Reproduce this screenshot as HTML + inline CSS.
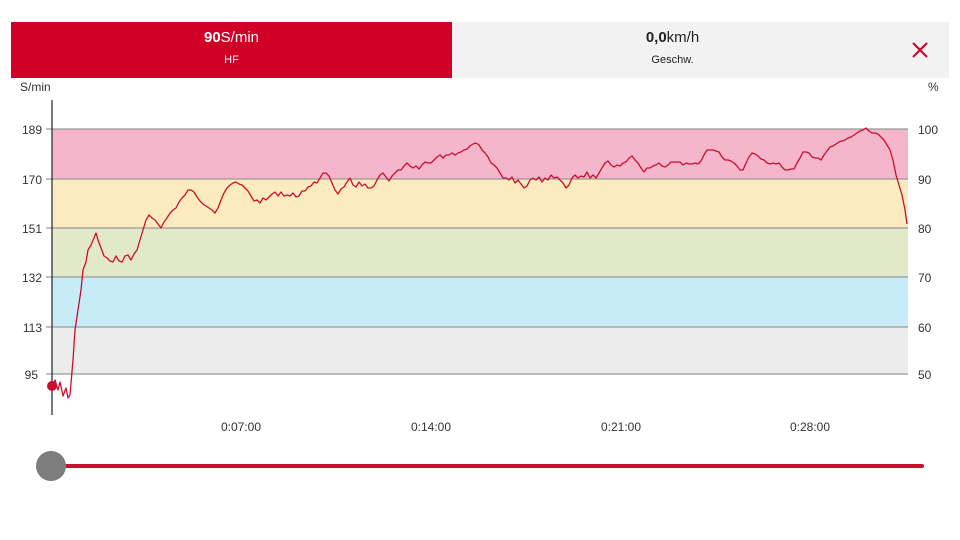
<!DOCTYPE html><html><head><meta charset="utf-8"><style>
body{margin:0;width:960px;height:540px;background:#fff;font-family:"Liberation Sans",sans-serif;overflow:hidden;position:relative}
.t{position:absolute;font-size:12px;color:#333}
</style></head><body>
<div style="position:absolute;left:11px;top:22px;width:441px;height:56px;background:#d10026;color:#fff;text-align:center">
<div style="font-size:15px;margin-top:7px"><b>90</b>S/min</div><div style="font-size:11px;margin-top:8px">HF</div></div>
<div style="position:absolute;left:452px;top:22px;width:497px;height:56px;background:#f2f2f2;color:#222;text-align:center">
<div style="font-size:15px;margin-top:7px;margin-left:-56px"><b>0,0</b>km/h</div><div style="font-size:11px;margin-top:8px;margin-left:-56px">Geschw.</div>
</div>
<div class="t" style="left:20px;top:80px">S/min</div>
<div class="t" style="left:928px;top:80px">%</div>
<svg width="960" height="540" style="position:absolute;left:0;top:0">
<g stroke="#d10026" stroke-width="2"><line x1="913" y1="43" x2="927" y2="57"/><line x1="927" y1="43" x2="913" y2="57"/></g>
<rect x="52" y="129" width="856" height="50" fill="#f5b5ca"/>
<rect x="52" y="179" width="856" height="49" fill="#fdebc0"/>
<rect x="52" y="228" width="856" height="49" fill="#e1e9c8"/>
<rect x="52" y="277" width="856" height="50" fill="#c8ebf8"/>
<rect x="52" y="327" width="856" height="47" fill="#ececec"/>
<g stroke="#999" stroke-width="1.2">
<line x1="46" y1="129" x2="908" y2="129"/><line x1="46" y1="179" x2="908" y2="179"/><line x1="46" y1="228" x2="908" y2="228"/><line x1="46" y1="277" x2="908" y2="277"/><line x1="46" y1="327" x2="908" y2="327"/><line x1="46" y1="374" x2="908" y2="374"/>
</g>
<line x1="52" y1="100" x2="52" y2="415" stroke="#222" stroke-width="1.2"/>
<g font-size="12" fill="#333" font-family="Liberation Sans">
<text x="42" y="134" text-anchor="end">189</text><text x="42" y="184" text-anchor="end">170</text><text x="42" y="233" text-anchor="end">151</text><text x="42" y="282" text-anchor="end">132</text><text x="42" y="332" text-anchor="end">113</text><text x="38" y="379" text-anchor="end">95</text>
<text x="918" y="134">100</text><text x="918" y="184">90</text><text x="918" y="233">80</text><text x="918" y="282">70</text><text x="918" y="332">60</text><text x="918" y="379">50</text>
<text x="241" y="431" text-anchor="middle">0:07:00</text><text x="431" y="431" text-anchor="middle">0:14:00</text><text x="621" y="431" text-anchor="middle">0:21:00</text><text x="810" y="431" text-anchor="middle">0:28:00</text>
</g>
<polyline fill="none" stroke="#c8102e" stroke-width="1.3" stroke-linejoin="round" points="52,386 55,380 58,390 60,382 63,396 66,388 68,398 70,395 73,360 75,330 78,310 81,290 83,270 86,262 88,250 91,245 94,238 96,233 98,240 101,248 104,256 107,258 110,261 113,262 116,256 119,261 122,262 125,256 128,255 131,260 134,254 137,250 140,240 143,230 146,220 149,215 152,218 155,220 158,224 161,228 164,222 167,218 170,213 173,210 176,208 179,202 182,198 185,195 188,190 191,190 194,192 197,197 200,201 203,204 206,206 209,208 212,210 215,213 218,208 221,200 224,193 227,188 230,185 233,183 236,182 239,184 242,185 245,188 248,191 251,196 254,201 257,200 260,203 263,198 266,200 269,197 272,194 275,192 278,196 281,192 284,196 287,195 290,196 293,193 296,197 299,196 302,191 305,191 308,187 311,186 314,182 317,183 320,178 323,173 326,173 329,176 332,183 335,190 338,194 341,189 344,187 347,182 350,178 353,185 356,187 359,182 362,186 365,184 368,188 371,188 374,186 377,180 380,175 383,173 386,177 389,181 392,176 395,173 398,170 401,170 404,166 407,163 410,166 413,168 416,166 419,169 422,165 425,162 428,163 431,163 434,160 437,157 440,155 443,158 446,155 449,155 452,153 455,155 458,153 461,152 464,150 467,149 470,146 473,144 476,143 479,145 482,150 485,153 488,157 491,163 494,165 497,168 500,173 503,178 506,178 509,180 512,177 515,183 518,180 521,184 524,188 527,186 530,180 533,178 536,180 539,177 542,182 545,178 548,180 551,175 554,178 557,177 560,180 563,183 566,188 569,185 572,178 575,175 578,178 581,176 584,177 587,172 590,178 593,175 596,178 599,173 602,168 605,163 608,161 611,165 614,167 617,165 620,166 623,163 626,162 629,158 632,156 635,160 638,163 641,168 644,172 647,168 650,168 653,166 656,165 659,163 662,166 665,167 668,165 671,162 674,162 677,162 680,162 683,165 686,163 689,164 692,164 695,163 698,164 701,161 704,155 707,150 710,150 713,150 716,151 719,152 722,157 725,160 728,160 731,161 734,163 737,166 740,170 743,170 746,163 749,157 752,153 755,154 758,156 761,159 764,160 767,163 770,164 773,163 776,164 779,163 782,167 785,170 788,170 791,169 794,169 797,163 800,158 803,152 806,152 809,153 812,157 815,158 818,158 821,160 824,155 827,151 830,147 833,146 836,144 839,142 842,141 845,140 848,138 851,137 854,135 857,133 860,131 863,130 866,128 869,131 872,133 875,133 878,134 881,137 884,140 887,145 890,150 893,160 896,175 899,185 902,195 905,210 907,224"/>
<circle cx="52" cy="386" r="5" fill="#c8102e"/>
<line x1="52" y1="466" x2="922" y2="466" stroke="#c8102e" stroke-width="4" stroke-linecap="round"/>
<circle cx="51" cy="466" r="15" fill="#7d7d7d"/>
</svg>
</body></html>
